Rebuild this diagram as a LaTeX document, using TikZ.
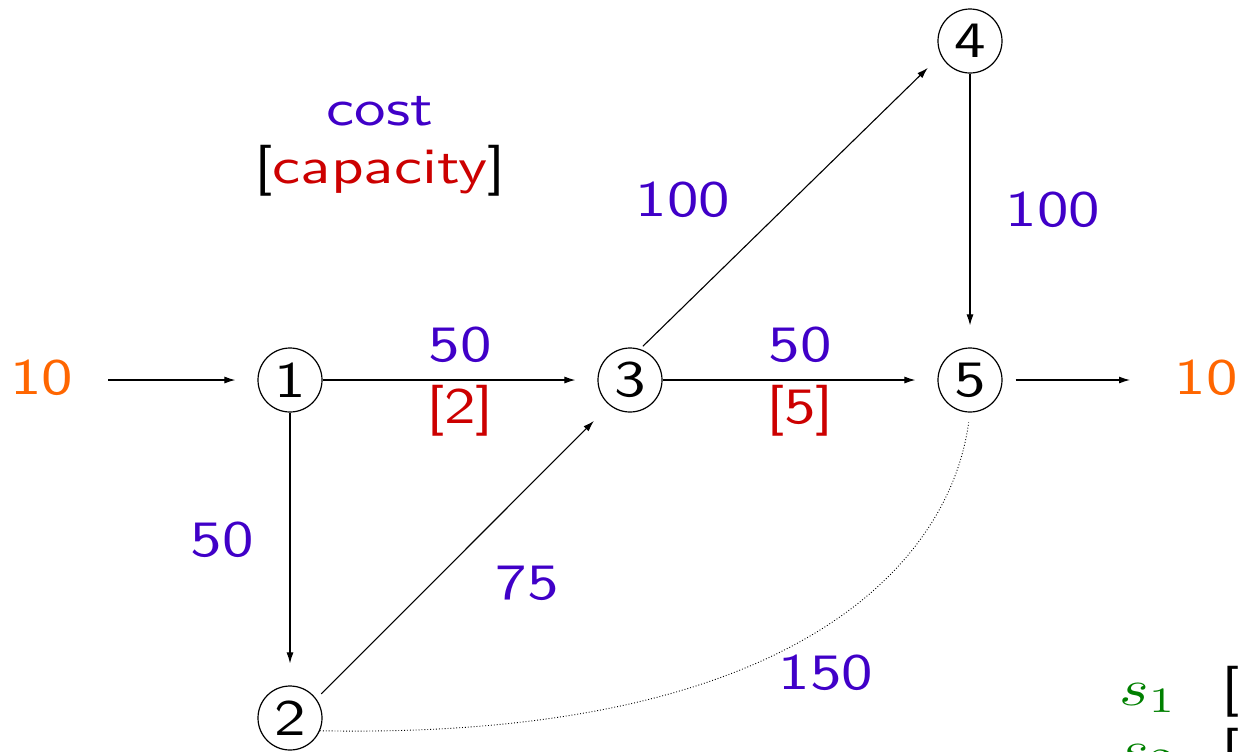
\documentclass[tikz,border=0pt]{standalone}
\usepackage{graphicx}
\usetikzlibrary{arrows.meta}
\definecolor{costc}{RGB}{64,0,200}
\definecolor{capc}{RGB}{204,0,0}
\definecolor{supc}{RGB}{255,102,0}
\definecolor{varc}{RGB}{0,128,0}
\newcommand{\tx}[1]{\scalebox{3.15}[2.55]{\sffamily\fontsize{10}{12}\selectfont #1}}
\begin{document}
\begin{tikzpicture}[x=0.5pt,y=-0.5pt,
  vert/.style={circle,draw,line width=0.6pt,minimum size=32pt,inner sep=0pt},
  lab/.style={inner sep=0pt},
  arr/.style={-{Latex[length=5.5pt,width=3.5pt]},line width=0.55pt},
  gap/.style={shorten >=11pt},
]
\clip (0,0) rectangle (1238,751);
% vertices
\node[vert] (1) at (290,380) {\tx{1}};
\node[vert] (2) at (290,718) {\tx{2}};
\node[vert] (3) at (630,380) {\tx{3}};
\node[vert] (4) at (970,41) {\tx{4}};
\node[vert] (5) at (970,380) {\tx{5}};
% supply / demand
\node[lab,text=supc] (in) at (42,378) {\tx{10}};
\node[lab,text=supc] (out) at (1206,378) {\tx{10}};
\coordinate (inS) at (108,380);
\coordinate (outE) at (1130,380);
% legend
\node[lab,text=costc,anchor=base] (leg1) at (380,125) {\tx{cost}};
\node[lab,anchor=base] (leg2) at (380,183) {\tx{[\textcolor{capc}{capacity}]}};
% edges
\draw[arr,gap] (inS) -- (1);
\draw[arr,shorten <=6.5pt] (5) -- (outE);
\draw[arr,gap] (1) -- (3);
\draw[arr,gap] (3) -- (5);
\draw[arr,gap] (1) -- (2);
\draw[arr,gap] (4) -- (5);
\draw[arr,shorten <=3.5pt,gap] (2.36) -- (3.231);
\draw[arr,shorten <=2pt,shorten >=9pt] (3.72) -- (4.206);
\draw[line width=0.45pt,densely dotted,shorten >=5pt] (2.-23) .. controls (800,740) and (950,560) .. (5.south);
% edge labels
\node[lab,text=costc] (c13) at (460,345) {\tx{50}};
\node[lab,text=capc] (k13) at (460,411) {\tx{[2]}};
\node[lab,text=costc] (c35) at (800,345) {\tx{50}};
\node[lab,text=capc] (k35) at (800,411) {\tx{[5]}};
\node[lab,text=costc] (c12) at (222,540) {\tx{50}};
\node[lab,text=costc] (c23) at (527,583) {\tx{75}};
\node[lab,text=costc] (c34) at (683,200) {\tx{100}};
\node[lab,text=costc] (c45) at (1053,210) {\tx{100}};
\node[lab,text=costc] (c25) at (826,673) {\tx{150}};
% variables (cut off at the border, as in the reference)
\node[lab,anchor=base west,text=varc] (s1) at (1119,705) {\tx{$s_1$}};
\node[lab,anchor=base west] (b1) at (1221,704) {\tx{[}};
\node[lab,anchor=base west,text=varc] (s2) at (1119,766) {\tx{$s_2$}};
\node[lab,anchor=base west] (b2) at (1221,766) {\tx{[}};
\end{tikzpicture}
\end{document}
